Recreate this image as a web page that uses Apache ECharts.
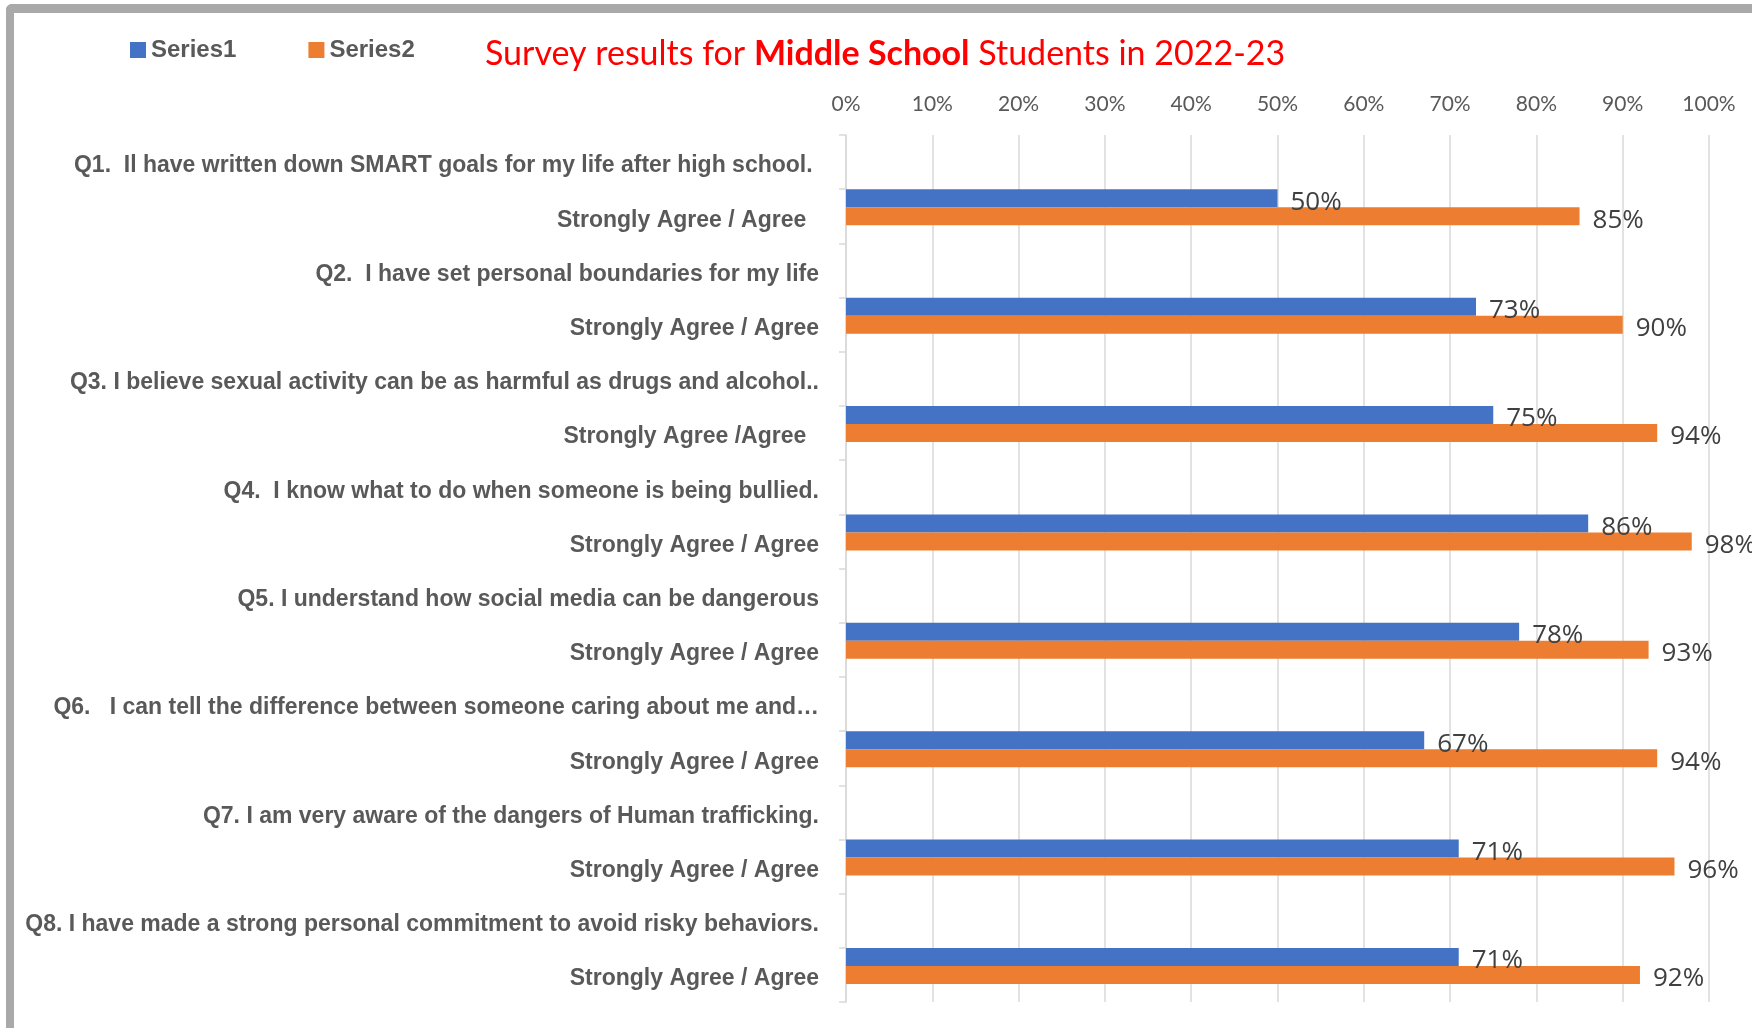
<!DOCTYPE html>
<html>
<head>
<meta charset="utf-8">
<script src="https://cdn.jsdelivr.net/npm/echarts@6/dist/echarts.min.js"></script>
<style>
html,body{margin:0;padding:0;background:#fff;}
#chart{width:1752px;height:1028px;}
</style>
</head>
<body>
<div id="chart"></div>
<script>
const categories = [
  "Q1.  Il have written down SMART goals for my life after high school. ",
  "Strongly Agree / Agree  ",
  "Q2.  I have set personal boundaries for my life",
  "Strongly Agree / Agree",
  "Q3. I believe sexual activity can be as harmful as drugs and alcohol..",
  "Strongly Agree /Agree  ",
  "Q4.  I know what to do when someone is being bullied.",
  "Strongly Agree / Agree",
  "Q5. I understand how social media can be dangerous",
  "Strongly Agree / Agree",
  "Q6.   I can tell the difference between someone caring about me and…",
  "Strongly Agree / Agree",
  "Q7. I am very aware of the dangers of Human trafficking.",
  "Strongly Agree / Agree",
  "Q8. I have made a strong personal commitment to avoid risky behaviors.",
  "Strongly Agree / Agree"
];
const series1 = [null, 50, null, 73, null, 75, null, 86, null, 78, null, 67, null, 71, null, 71];
const series2 = [null, 85, null, 90, null, 94, null, 98, null, 93, null, 94, null, 96, null, 92];
const spacer = [null, null, null, null, null, null, null, null, null, null, null, null, null, null, null, null];
const xTicks = [0, 10, 20, 30, 40, 50, 60, 70, 80, 90, 100];

const chart = echarts.init(document.getElementById('chart'));
const catFont = '"Liberation Sans", Arial, sans-serif';
const valueLabel = {
  show: true, position: 'right', distance: 13, offset: [0, 4],
  formatter: p => p.value + '%',
  fontFamily: '"Open Sans", sans-serif', fontSize: 26, color: '#404040'
};
chart.setOption({
  animation: false,
  backgroundColor: '#ffffff',
  graphic: [
    {type: 'rect', shape: {x: 6, y: 4, width: 1760, height: 9, r: [6, 0, 0, 0]}, style: {fill: '#a9a9a9'}},
    {type: 'rect', shape: {x: 6, y: 4, width: 8, height: 1040, r: [6, 0, 0, 0]}, style: {fill: '#a9a9a9'}}
  ],
  title: {
    left: 485, top: 37, padding: 0,
    text: '{a|Survey results for }{b|Middle School}{a| Students in 2022-23}',
    textStyle: {
      rich: {
        a: {fontFamily: 'Lato, sans-serif', fontSize: 34, fontWeight: 'normal', color: '#ff0000'},
        b: {fontFamily: 'Lato, sans-serif', fontSize: 34, fontWeight: 'bold', color: '#ff0000'}
      }
    }
  },
  legend: {
    data: ['Series1', 'Series2'],
    left: 130, top: 38, padding: 0,
    icon: 'rect', itemWidth: 16, itemHeight: 16, itemGap: 72,
    textStyle: {fontFamily: catFont, fontWeight: 'bold', fontSize: 24, color: '#595959'}
  },
  grid: {left: 846, right: 43, top: 135, bottom: 26, containLabel: false, outerBoundsMode: 'none'},
  xAxis: {
    type: 'value', position: 'top', min: 0, max: 100, interval: 10,
    axisLine: {show: false}, axisTick: {show: false},
    axisLabel: {
      formatter: v => xTicks.includes(v) ? v + '%' : '',
      margin: 20, fontFamily: 'Lato, sans-serif', fontSize: 21, color: '#595959'
    },
    splitLine: {show: true, lineStyle: {color: '#d9d9d9', width: 1.5}}
  },
  yAxis: {
    type: 'category', inverse: true, data: categories,
    axisLine: {show: true, lineStyle: {color: '#d9d9d9', width: 1.5}},
    axisTick: {show: true, length: 7, lineStyle: {color: '#d9d9d9', width: 1.5}},
    axisLabel: {
      margin: 27, verticalAlign: 'top', lineHeight: 8,
      fontFamily: catFont, fontWeight: 'bold', fontSize: 23, color: '#595959'
    }
  },
  series: [
    {name: 'Series1', type: 'bar', data: series1, barWidth: 18, barGap: '0%',
     itemStyle: {color: '#4472c4'}, label: valueLabel},
    {name: 'Series2', type: 'bar', data: series2, barWidth: 18, barGap: '0%',
     itemStyle: {color: '#ed7d31'}, label: valueLabel},
    {name: 'spacer', type: 'bar', data: spacer, barWidth: 18, barGap: '0%',
     itemStyle: {color: 'rgba(0,0,0,0)'}, silent: true}
  ]
});
</script>
</body>
</html>
